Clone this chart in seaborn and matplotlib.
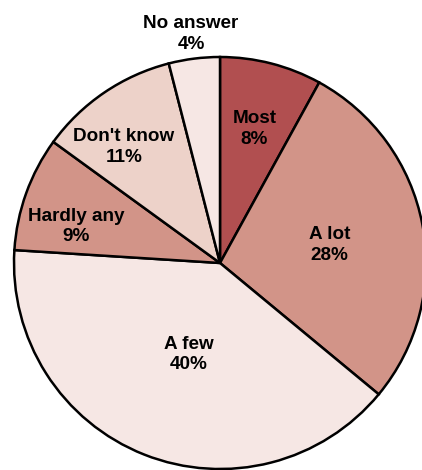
import numpy as np
import matplotlib
matplotlib.use("Agg")
import matplotlib.pyplot as plt
import seaborn as sns

sns.set_theme(style="white")
plt.rcParams["font.family"] = ["Liberation Sans", "DejaVu Sans"]

categories = ["Most", "A lot", "A few", "Hardly any", "Don't know", "No answer"]
shares = [8, 28, 40, 9, 11, 4]
colors = ["#b14f50", "#d29488", "#f6e7e4", "#d29488", "#edd2c9", "#f6e7e4"]

# label placement: radius as a fraction of the pie radius, plus an angle nudge (deg)
label_r = [0.67, 0.54, 0.47, 0.72, 0.73, 1.12]
label_dtheta = [0, -1.5, 2.5, 5.5, 5.5, 0]

W, H = 422, 470
fig = plt.figure(figsize=(W / 100, H / 100), dpi=100)
ax = fig.add_axes([0, 0, 1, 1])

cx, cy, R = 220, 207, 206
wedges, _ = ax.pie(
    shares,
    colors=colors,
    startangle=90,
    counterclock=False,
    center=(cx, cy),
    radius=R,
    frame=True,
    wedgeprops=dict(edgecolor="black", linewidth=1.8),
)
ax.set_xlim(0, W)
ax.set_ylim(0, H)
ax.set_aspect("equal")
ax.axis("off")

for w, name, val, rf, dt in zip(wedges, categories, shares, label_r, label_dtheta):
    mid = np.deg2rad((w.theta1 + w.theta2) / 2 + dt)
    x = cx + rf * R * np.cos(mid)
    y = cy + rf * R * np.sin(mid)
    ax.text(x, y, f"{name}\n{val}%", ha="center", va="center",
            fontsize=13.6, fontweight="bold", color="black", linespacing=1.28)

fig.savefig("out.png", dpi=100)
